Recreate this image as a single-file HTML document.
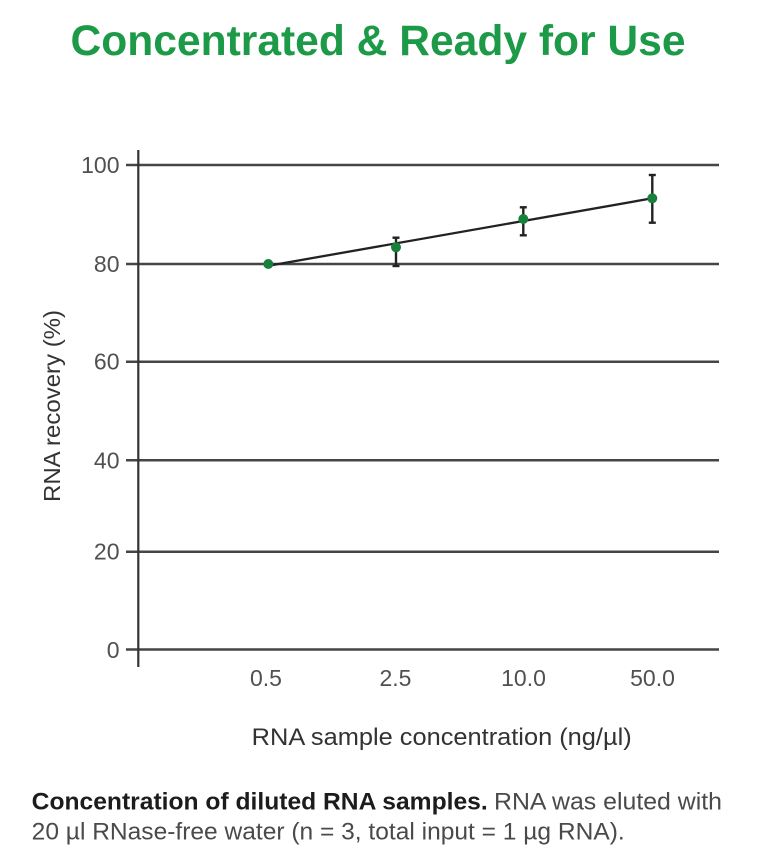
<!DOCTYPE html>
<html>
<head>
<meta charset="utf-8">
<style>
  html, body { margin: 0; padding: 0; background: #ffffff; }
  body { width: 778px; height: 868px; overflow: hidden; }
  svg { display: block; }
  text { font-family: "Liberation Sans", "DejaVu Sans", sans-serif; }
</style>
</head>
<body>
<svg width="778" height="868" viewBox="0 0 778 868" xmlns="http://www.w3.org/2000/svg">
  <rect width="778" height="868" fill="#ffffff"/>

  <!-- Title -->
  <text x="70.5" y="55" font-size="42.5" font-weight="bold" fill="#1d9a47" textLength="615" lengthAdjust="spacingAndGlyphs">Concentrated &amp; Ready for Use</text>

  <!-- Gridlines with left tick stubs -->
  <g stroke="#454545" stroke-width="2.5">
    <line x1="126" y1="165" x2="719" y2="165"/>
    <line x1="126" y1="264" x2="719" y2="264"/>
    <line x1="126" y1="361.7" x2="719" y2="361.7"/>
    <line x1="126" y1="460.3" x2="719" y2="460.3"/>
    <line x1="126" y1="551.7" x2="719" y2="551.7"/>
    <line x1="126" y1="649.5" x2="719" y2="649.5"/>
  </g>
  <!-- Y axis -->
  <line x1="138.3" y1="150" x2="138.3" y2="667" stroke="#333333" stroke-width="2.2"/>

  <!-- Y tick labels -->
  <g font-size="23" fill="#505050" text-anchor="end">
    <text x="119.5" y="173">100</text>
    <text x="119.5" y="272">80</text>
    <text x="119.5" y="369.7">60</text>
    <text x="119.5" y="468.3">40</text>
    <text x="119.5" y="559.7">20</text>
    <text x="119.5" y="658">0</text>
  </g>

  <!-- Y axis title -->
  <text transform="translate(60,406) rotate(-90)" x="0" y="0" font-size="23.5" fill="#333333" text-anchor="middle" textLength="192" lengthAdjust="spacingAndGlyphs">RNA recovery (%)</text>

  <!-- X tick labels -->
  <g font-size="23" fill="#505050" text-anchor="middle">
    <text x="266" y="686">0.5</text>
    <text x="395.5" y="686">2.5</text>
    <text x="523.5" y="686">10.0</text>
    <text x="652.5" y="686">50.0</text>
  </g>

  <!-- X axis title -->
  <text x="251.7" y="745" font-size="24.5" fill="#333333" textLength="380" lengthAdjust="spacingAndGlyphs">RNA sample concentration (ng/µl)</text>

  <!-- Data line -->
  <line x1="270" y1="265.5" x2="652.3" y2="198.3" stroke="#222222" stroke-width="2.3"/>

  <!-- Error bars -->
  <g stroke="#222222" stroke-width="2.4">
    <line x1="396" y1="237.7" x2="396" y2="266"/>
    <line x1="392.5" y1="237.7" x2="399.5" y2="237.7"/>
    <line x1="392.5" y1="266" x2="399.5" y2="266"/>

    <line x1="523.3" y1="207.3" x2="523.3" y2="235.3"/>
    <line x1="519.8" y1="207.3" x2="526.8" y2="207.3"/>
    <line x1="519.8" y1="235.3" x2="526.8" y2="235.3"/>

    <line x1="652.3" y1="175" x2="652.3" y2="222.7"/>
    <line x1="648.8" y1="175" x2="655.8" y2="175"/>
    <line x1="648.8" y1="222.7" x2="655.8" y2="222.7"/>
  </g>

  <!-- Markers -->
  <g fill="#17803a">
    <circle cx="268.3" cy="264" r="5"/>
    <circle cx="396" cy="247.3" r="5"/>
    <circle cx="523.3" cy="219" r="5"/>
    <circle cx="652.3" cy="198.3" r="5"/>
  </g>

  <!-- Caption -->
  <text x="31.7" y="809.3" font-size="24.5" font-weight="bold" fill="#1c1c1c" textLength="456" lengthAdjust="spacingAndGlyphs">Concentration of diluted RNA samples.</text>
  <text x="494" y="809.3" font-size="24.5" fill="#4a4a4a" textLength="228" lengthAdjust="spacingAndGlyphs">RNA was eluted with</text>
  <text x="31.7" y="839.3" font-size="24.5" fill="#4a4a4a" textLength="593" lengthAdjust="spacingAndGlyphs">20 µl RNase-free water (n = 3, total input = 1 µg RNA).</text>
</svg>
</body>
</html>
